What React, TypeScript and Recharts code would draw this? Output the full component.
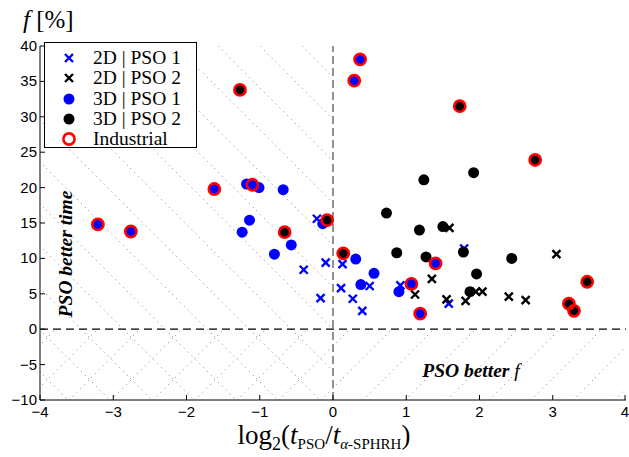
import React from "react"
import {
  Legend,
  ReferenceArea,
  ReferenceLine,
  Scatter,
  ScatterChart,
  XAxis,
  YAxis,
} from "recharts"

// [log2(t_PSO / t_alpha-SPHRH), f %]
const PSO1_2D: [number, number][] = [
  [-0.22, 15.6], [-0.4, 8.4], [-0.1, 9.4], [-0.17, 4.4], [0.13, 9.2], [0.11, 5.8],
  [0.27, 4.3], [0.4, 2.6], [0.5, 6.1], [0.92, 6.2], [1.58, 3.6], [1.79, 11.4],
]
const PSO2_2D: [number, number][] = [
  [1.59, 14.3], [1.35, 7.1], [1.12, 4.9], [1.55, 4.2], [1.81, 4.0], [1.95, 5.3],
  [2.04, 5.3], [2.4, 4.6], [2.63, 4.1], [3.05, 10.6],
]
const PSO1_3D: [number, number][] = [
  [-1.18, 20.5], [-1.01, 20.0], [-0.68, 19.7], [-1.14, 15.4], [-1.24, 13.7], [-0.57, 11.9],
  [-0.8, 10.6], [-0.14, 14.9], [0.31, 9.9], [0.38, 6.3], [0.56, 7.9], [0.9, 5.3],
  [-3.21, 14.8], [-2.76, 13.8], [-1.62, 19.8], [-1.1, 20.4], [0.37, 38.1], [0.29, 35.1],
  [1.4, 9.3], [1.07, 6.4], [1.19, 2.2],
]
const PSO2_3D: [number, number][] = [
  [0.73, 16.4], [1.24, 21.1], [1.92, 22.1], [1.18, 14.0], [1.5, 14.5], [0.87, 10.8],
  [1.27, 10.2], [1.78, 10.9], [2.44, 10.0], [1.96, 7.8], [1.87, 5.3],
  [-1.27, 33.8], [-0.66, 13.7], [-0.08, 15.4], [0.14, 10.7], [1.73, 31.5], [2.76, 23.9],
  [3.47, 6.7], [3.22, 3.6], [3.29, 2.6],
]
const INDUSTRIAL: [number, number][] = [
  [-3.21, 14.8], [-2.76, 13.8], [-1.62, 19.8], [-1.1, 20.4], [0.37, 38.1], [0.29, 35.1],
  [1.4, 9.3], [1.07, 6.4], [1.19, 2.2],
  [-1.27, 33.8], [-0.66, 13.7], [-0.08, 15.4], [0.14, 10.7], [1.73, 31.5], [2.76, 23.9],
  [3.47, 6.7], [3.22, 3.6], [3.29, 2.6],
]

const X_TICKS = [-4, -3, -2, -1, 0, 1, 2, 3, 4]
const Y_TICKS = [-10, -5, 0, 5, 10, 15, 20, 25, 30, 35, 40]
const LEGEND_LABELS = ["2D | PSO 1", "2D | PSO 2", "3D | PSO 1", "3D | PSO 2", "Industrial"]

const BLUE = "#0000ff"
const BLACK = "#000000"
const RED = "#ff0000"
const HATCH = "#a8a8a8"
const SANS = "'Liberation Sans', Arial, sans-serif"
const SERIF = "'Liberation Serif', 'Times New Roman', serif"

const toPoints = (rows: [number, number][]) => rows.map(([x, y]) => ({ x, y }))

const cross = (color: string) => (p: any) => (
  <path
    d={`M${p.cx - 4},${p.cy - 4}L${p.cx + 4},${p.cy + 4}M${p.cx - 4},${p.cy + 4}L${p.cx + 4},${p.cy - 4}`}
    stroke={color}
    strokeWidth={2.4}
    fill="none"
  />
)
const dot = (color: string) => (p: any) => <circle cx={p.cx} cy={p.cy} r={5.5} fill={color} />
const ring = (p: any) => (
  <circle cx={p.cx} cy={p.cy} r={5.6} fill="none" stroke={RED} strokeWidth={2.6} />
)

function hatch(id: string, dir: "back" | "fwd", offset: number) {
  return (p: any) => (
    <g>
      <defs>
        <pattern id={id} patternUnits="userSpaceOnUse" width={42} height={42} x={offset} y={0}>
          {dir === "back" ? (
            <line x1={0} y1={0} x2={42} y2={42} stroke={HATCH} strokeWidth={1} strokeDasharray="1.5 4" />
          ) : (
            <line x1={0} y1={42} x2={42} y2={0} stroke={HATCH} strokeWidth={1} strokeDasharray="1.5 4" />
          )}
        </pattern>
      </defs>
      <rect x={p.x} y={p.y} width={p.width} height={p.height} fill={`url(#${id})`} />
    </g>
  )
}

function XTick({ x, y, payload }: any) {
  const v = payload.value
  return (
    <g>
      <line x1={x} y1={y} x2={x} y2={y - 5} stroke="#000" />
      <text x={x} y={y + 17} textAnchor="middle" fontFamily={SANS} fontSize={15} fill="#000">
        {v < 0 ? `\u2212${-v}` : v}
      </text>
    </g>
  )
}

function YTick({ x, y, payload }: any) {
  const v = payload.value
  return (
    <g>
      <line x1={x} y1={y} x2={x + 5} y2={y} stroke="#000" />
      <text x={x - 3} y={y + 5} textAnchor="end" fontFamily={SANS} fontSize={15} fill="#000">
        {v < 0 ? `\u2212${-v}` : v}
      </text>
    </g>
  )
}

function LegendMarker({ i }: { i: number }) {
  const c = { cx: 8, cy: 8 }
  return (
    <svg width={16} height={16} style={{ display: "block" }}>
      {i === 0 && cross(BLUE)(c)}
      {i === 1 && cross(BLACK)(c)}
      {i === 2 && dot(BLUE)(c)}
      {i === 3 && dot(BLACK)(c)}
      {i === 4 && ring(c)}
    </svg>
  )
}

function LegendBox() {
  return (
    <div
      style={{
        border: "1px solid #000",
        background: "#fff",
        width: 151,
        height: 99,
        paddingTop: 5,
        boxSizing: "content-box",
      }}
    >
      {LEGEND_LABELS.map((label, i) => (
        <div key={label} style={{ display: "flex", alignItems: "center", height: 20.3 }}>
          <div style={{ width: 16, marginLeft: 16, marginRight: 16 }}>
            <LegendMarker i={i} />
          </div>
          <span style={{ fontFamily: SERIF, fontSize: 19.5, color: "#000", whiteSpace: "nowrap" }}>
            {label}
          </span>
        </div>
      ))}
    </div>
  )
}

export default function App() {
  return (
    <div style={{ position: "absolute", left: 0, top: 0, width: 629, height: 457, background: "#fff" }}>
      <ScatterChart width={629} height={457} margin={{ top: 46, right: 3, bottom: 27, left: 0 }}>
        <ReferenceArea x1={-4} x2={0} y1={-10} y2={40} shape={hatch("hatchTime", "back", 4)} />
        <ReferenceArea x1={-4} x2={4} y1={-10} y2={0} shape={hatch("hatchF", "fwd", 7)} />
        <XAxis
          type="number"
          dataKey="x"
          domain={[-4, 4]}
          ticks={X_TICKS}
          height={30}
          tickSize={0}
          tickMargin={0}
          tickLine={false}
          axisLine={{ stroke: "#000" }}
          tick={<XTick />}
          allowDataOverflow
        />
        <YAxis
          type="number"
          dataKey="y"
          domain={[-10, 40]}
          ticks={Y_TICKS}
          width={40}
          tickSize={0}
          tickMargin={0}
          tickLine={false}
          axisLine={{ stroke: "#000" }}
          tick={<YTick />}
          allowDataOverflow
        />
        <ReferenceLine x={0} stroke="#777" strokeWidth={1.6} strokeDasharray="8 4" />
        <ReferenceLine y={0} stroke="#000" strokeWidth={1.2} strokeDasharray="8 5" />
        <Scatter data={toPoints(PSO1_2D)} shape={cross(BLUE)} isAnimationActive={false} />
        <Scatter data={toPoints(PSO2_2D)} shape={cross(BLACK)} isAnimationActive={false} />
        <Scatter data={toPoints(PSO1_3D)} shape={dot(BLUE)} isAnimationActive={false} />
        <Scatter data={toPoints(PSO2_3D)} shape={dot(BLACK)} isAnimationActive={false} />
        <Scatter data={toPoints(INDUSTRIAL)} shape={ring} isAnimationActive={false} />
        <Legend
          layout="vertical"
          align="center"
          verticalAlign="middle"
          content={() => <LegendBox />}
          wrapperStyle={{ left: 44, top: 42, width: 153, height: 105 }}
        />
      </ScatterChart>
      <svg
        width={629}
        height={457}
        style={{ position: "absolute", left: 0, top: 0, pointerEvents: "none" }}
      >
        <text x={23} y={28} fontFamily={SERIF} fontSize={25} fill="#000">
          <tspan fontStyle="italic">f</tspan> [%]
        </text>
        <text
          x={72}
          y={254}
          transform="rotate(-90 72 254)"
          textAnchor="middle"
          fontFamily={SERIF}
          fontSize={19.5}
          fontWeight="bold"
          fontStyle="italic"
          fill="#000"
        >
          PSO better time
        </text>
        <text
          x={471}
          y={377}
          textAnchor="middle"
          fontFamily={SERIF}
          fontSize={19.5}
          fontWeight="bold"
          fontStyle="italic"
          fill="#000"
        >
          PSO better <tspan fontWeight="normal">f</tspan>
        </text>
        <text x={324} y={444} textAnchor="middle" fontFamily={SERIF} fontSize={27} fill="#000">
          log
          <tspan fontSize={18} dy={6}>2</tspan>
          <tspan dy={-6}>(</tspan>
          <tspan fontStyle="italic">t</tspan>
          <tspan fontSize={15} dy={5}>PSO</tspan>
          <tspan dy={-5}>/</tspan>
          <tspan fontStyle="italic">t</tspan>
          <tspan fontSize={15} dy={5}>
            <tspan fontStyle="italic">α</tspan>-SPHRH
          </tspan>
          <tspan dy={-5}>)</tspan>
        </text>
      </svg>
    </div>
  )
}
